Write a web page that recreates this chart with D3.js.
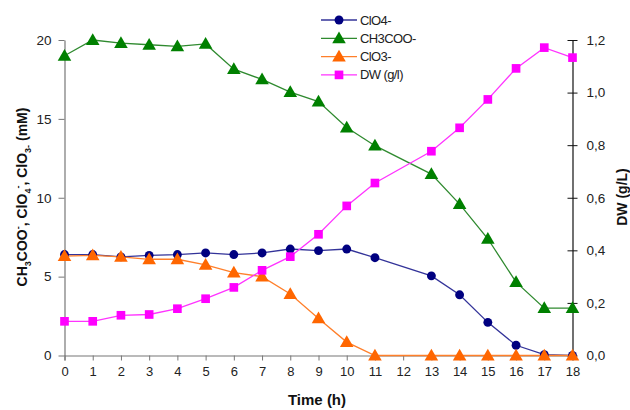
<!DOCTYPE html>
<html><head><meta charset="utf-8">
<script src="https://d3js.org/d3.v7.min.js"></script>
<style>body{margin:0;background:#fff}svg{display:block}text{font-family:"Liberation Sans",Arial,sans-serif}</style>
</head><body><svg id="c" width="630" height="410"></svg>
<script>
const timeTicks = [0,1,2,3,4,5,6,7,8,9,10,11,12,13,14,15,16,17,18];
const times = [0,1,2,3,4,5,6,7,8,9,10,11,13,14,15,16,17,18];
const clo4 = [6.4,6.4,6.25,6.35,6.4,6.5,6.4,6.5,6.75,6.65,6.75,6.2,5.05,3.85,2.1,0.65,0.05,0];
const acetate = [19.0,20.0,19.8,19.7,19.6,19.75,18.15,17.5,16.7,16.1,14.45,13.3,11.5,9.6,7.4,4.65,3.0,3.0];
const clo3 = [6.3,6.35,6.25,6.1,6.1,5.75,5.25,5.0,3.9,2.35,0.85,0,0,0,0,0,0,0];
const dw = [0.13,0.13,0.153,0.156,0.178,0.216,0.259,0.324,0.376,0.461,0.569,0.656,0.777,0.866,0.974,1.092,1.171,1.133];
const leftTicks = [0,5,10,15,20];
const rightTicks = [0,0.2,0.4,0.6,0.8,1.0,1.2];
const legendNames = ["ClO4-","CH3COO-","ClO3-","DW (g/l)"];

const svg = d3.select("#c");
const x = d3.scaleLinear().domain([0,18]).range([64.5,572.5]);
const yL = d3.scaleLinear().domain([0,20]).range([355.5,40]);
const yR = d3.scaleLinear().domain([0,1.2]).range([355.5,40]);

// axes
const gx = svg.append("g").attr("transform","translate(0,355.5)")
  .call(d3.axisBottom(x).tickValues(timeTicks).tickSize(5).tickPadding(6).tickFormat(d3.format("d")));
gx.select(".domain").attr("stroke","#777").attr("stroke-width",1.2);
gx.selectAll(".tick line").attr("stroke","#777");
gx.selectAll("text").attr("font-size",13).attr("fill","#222");

const gl = svg.append("g").attr("transform","translate(64.5,0)")
  .call(d3.axisLeft(yL).tickValues(leftTicks).tickSize(6).tickPadding(7).tickSizeOuter(0));
gl.select(".domain").attr("stroke","#777").attr("stroke-width",1.2);
gl.selectAll(".tick line").attr("stroke","#777");
gl.selectAll("text").attr("font-size",13.5).attr("fill","#222");

const fmtR = d => d3.format(".1f")(d).replace(".",",");
const gr = svg.append("g").attr("transform","translate(572.5,0)")
  .call(d3.axisRight(yR).tickValues(rightTicks).tickSize(5).tickPadding(9).tickSizeOuter(0).tickFormat(fmtR));
gr.select(".domain").attr("stroke","#111").attr("stroke-width",1.2);
gr.selectAll(".tick line").attr("stroke","#111").attr("x1",-5);
gr.selectAll("text").attr("font-size",13.5).attr("fill","#222");

// titles
svg.append("text").attr("x",317).attr("y",405).attr("text-anchor","middle")
  .attr("font-size",15).attr("font-weight","bold").attr("fill","#111").text("Time (h)");
svg.append("text").attr("transform","translate(627,197) rotate(-90)").attr("text-anchor","middle")
  .attr("font-size",14).attr("font-weight","bold").attr("fill","#111").text("DW (g/L)");
const lt = svg.append("text").attr("transform","translate(27,197) rotate(-90)").attr("text-anchor","middle")
  .attr("font-size",14).attr("font-weight","bold").attr("fill","#111");
const parts = [["CH",0,14],["3",4,9],["COO",-4,14],["-",-6,9],[", ClO",6,14],["4",4,9],["-",-10,9],[", ClO",6,14],["3",4,9],["-",0,9],[" (mM)",-4,14]];
parts.forEach(p=>lt.append("tspan").attr("dy",p[1]).attr("font-size",p[2]).text(p[0]));

// series
const series = [
  {vals:clo4, y:yL, line:"#333399", fill:"#000080", shape:"circle"},
  {vals:acetate, y:yL, line:"#2f8a2f", fill:"#008000", shape:"triangle"},
  {vals:clo3, y:yL, line:"#ff7f2a", fill:"#ff6600", shape:"triangle"},
  {vals:dw, y:yR, line:"#ff33ff", fill:"#ff00ff", shape:"square"}
];
const sym = {circle:d3.symbol().type(d3.symbolCircle).size(62),
  triangle:d3.symbol().type(d3.symbolTriangle).size(80),
  square:d3.symbol().type(d3.symbolSquare).size(75)};

series.forEach(s=>{
  const data = times.map((t,i)=>[t,s.vals[i]]);
  svg.append("path").datum(data).attr("fill","none").attr("stroke",s.line).attr("stroke-width",1.3)
    .attr("d",d3.line().x(d=>x(d[0])).y(d=>s.y(d[1])));
});
series.forEach(s=>{
  const data = times.map((t,i)=>[t,s.vals[i]]);
  svg.append("g").selectAll("path").data(data).join("path")
    .attr("d",sym[s.shape]).attr("fill",s.fill)
    .attr("transform",d=>`translate(${x(d[0])},${s.y(d[1])+(s.shape==="triangle"?1:0)})`);
});

// legend
const lg = svg.append("g");
legendNames.forEach((n,i)=>{
  const s = series[i], yy = 20 + i*18.3;
  lg.append("line").attr("x1",321).attr("x2",357).attr("y1",yy).attr("y2",yy).attr("stroke",s.line).attr("stroke-width",1.3);
  lg.append("path").attr("d",sym[s.shape]).attr("fill",s.fill).attr("transform",`translate(339,${yy+(s.shape==="triangle"?1:0)})`);
  lg.append("text").attr("x",360).attr("y",yy+4.5).attr("font-size",13).attr("letter-spacing",-0.6).attr("fill","#222").text(n);
});
</script></body></html>
